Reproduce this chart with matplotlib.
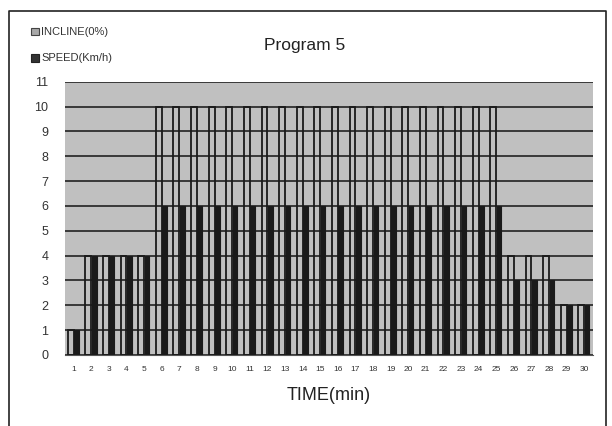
import matplotlib.pyplot as plt
import matplotlib.patches as mpatches
import numpy as np

plt.rcParams['font.family'] = ['Liberation Sans', 'DejaVu Sans']

minutes = list(range(1, 31))
incline = [1, 4, 4, 4, 4] + [10] * 20 + [4, 4, 4, 2, 2]
speed = [1, 4, 4, 4, 4] + [6] * 20 + [3, 3, 3, 2, 2]

bg = '#c0c0c0'
dark = '#1a1a1a'

fig = plt.figure(figsize=(6.12, 4.26), dpi=100)
ax = fig.add_axes([0.106, 0.167, 0.863, 0.641])
ax.set_facecolor(bg)

x = np.arange(len(minutes))
w = 0.33
# incline bars are see-through with a dark outline, speed bars solid
ax.bar(x - w / 2, incline, width=w, facecolor='none', edgecolor=dark, linewidth=1.3, zorder=3)
ax.bar(x + w / 2, speed, width=w * 0.8, color=dark, edgecolor=dark, linewidth=0.8, zorder=3)

ax.set_ylim(0, 11)
ax.set_yticks(range(0, 12))
ax.set_xlim(-0.5, len(minutes) - 0.5)
ax.set_xticks(x)
ax.set_xticklabels([str(m) for m in minutes], fontsize=6, color='#333333')
ax.tick_params(axis='y', labelsize=9, length=0, pad=12, labelcolor='#333333')
ax.tick_params(axis='x', length=0, pad=8)
ax.yaxis.grid(True, color='#222222', linewidth=1.2, zorder=1)
ax.set_axisbelow(True)
for s in ['top', 'right', 'left']:
    ax.spines[s].set_visible(False)
ax.spines['bottom'].set_color('#555555')

ax.set_xlabel('TIME(min)', fontsize=13, labelpad=10, color='#222222')

fig.text(0.498, 0.893, 'Program 5', fontsize=12.5, ha='center', va='center', color='#222222')

# legend
fig.patches.append(mpatches.Rectangle((0.051, 0.917), 0.012, 0.018, facecolor='#a8a8a8',
                                      edgecolor='#444444', linewidth=0.8, transform=fig.transFigure))
fig.text(0.067, 0.926, 'INCLINE(0%)', fontsize=8, va='center', color='#333333')
fig.patches.append(mpatches.Rectangle((0.051, 0.855), 0.012, 0.018, facecolor='#333333',
                                      edgecolor='#222222', linewidth=0.8, transform=fig.transFigure))
fig.text(0.067, 0.864, 'SPEED(Km/h)', fontsize=8, va='center', color='#333333')

# outer frame
fig.add_artist(plt.Line2D([0.014, 0.014, 0.99, 0.99], [0.0, 0.975, 0.975, 0.0],
                          transform=fig.transFigure, color='#222222', linewidth=1.2))

fig.savefig('out.png', dpi=100)
